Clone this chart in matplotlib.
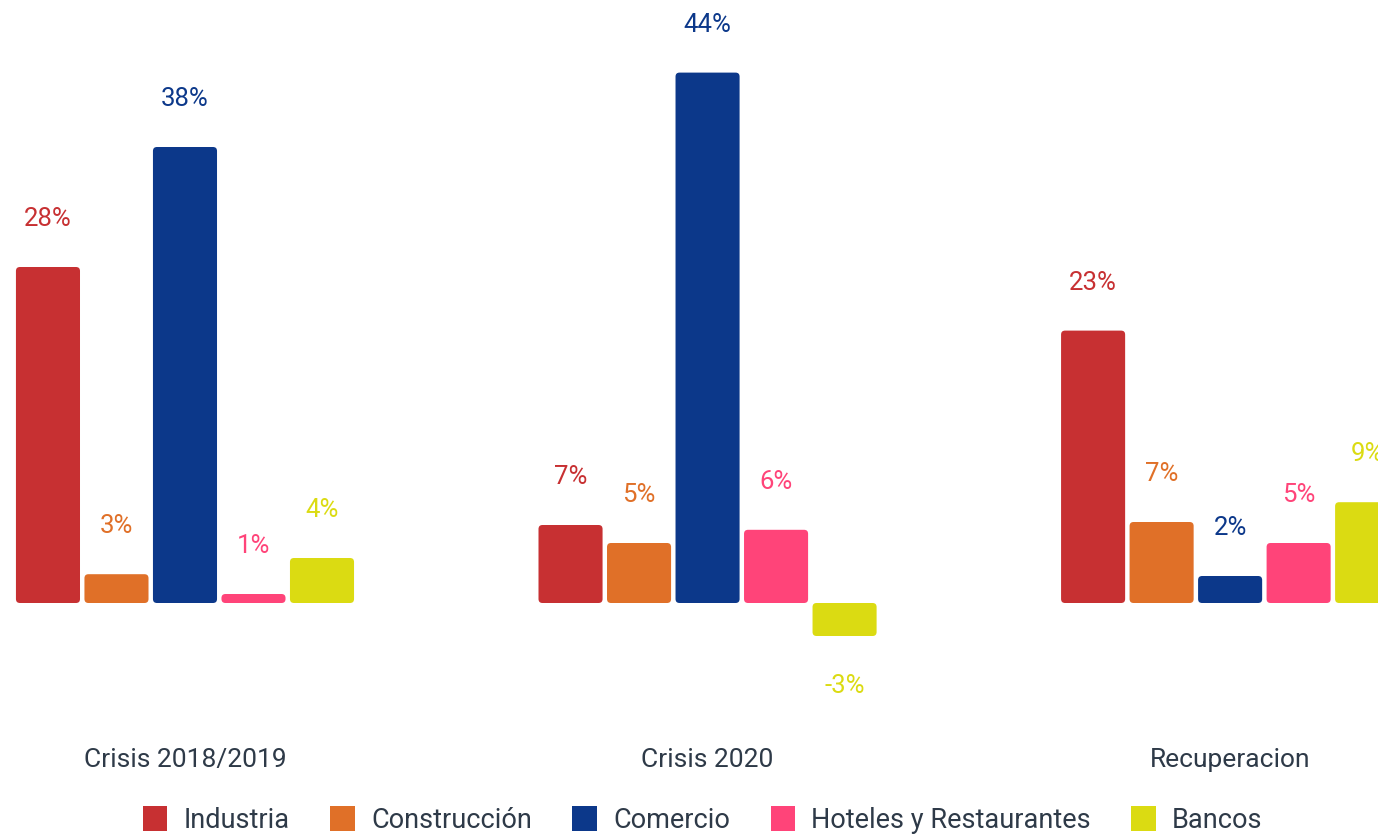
import matplotlib.pyplot as plt
from matplotlib.patches import FancyBboxPatch, Patch
import numpy as np

plt.rcParams['font.family'] = ['Roboto', 'DejaVu Sans']

periodos = ['Crisis 2018/2019', 'Crisis 2020', 'Recuperacion']
sectores = ['Industria', 'Construcción', 'Comercio', 'Hoteles y Restaurantes', 'Bancos']
colores = ['#C73032', '#E07028', '#0C388A', '#FF4479', '#DBDB12']

# alturas (en %)
industria = [28.0, 6.5, 22.7]
construccion = [2.4, 5.0, 6.75]
comercio = [38.0, 44.2, 2.25]
hoteles = [0.75, 6.1, 5.0]
bancos = [3.75, -2.75, 8.4]

# etiquetas tal como aparecen
et_industria = ['28%', '7%', '23%']
et_construccion = ['3%', '5%', '7%']
et_comercio = ['38%', '44%', '2%']
et_hoteles = ['1%', '6%', '5%']
et_bancos = ['4%', '-3%', '9%']

series = [industria, construccion, comercio, hoteles, bancos]
etiquetas = [et_industria, et_construccion, et_comercio, et_hoteles, et_bancos]

texto = '#2E3A48'

fig = plt.figure(figsize=(13.78, 8.35), dpi=100)
ax = fig.add_axes([0, 115 / 835, 1, 720 / 835])
xlim = (-0.354, 2.283)
ylim = (-9.75, 50.25)
ax.set_xlim(*xlim)
ax.set_ylim(*ylim)

x = np.arange(len(periodos))
paso = 0.1311
ancho = 0.1226

# pixeles por unidad, para redondear las esquinas sin deformarlas
px_x = 1378 / (xlim[1] - xlim[0])
px_y = 720 / (ylim[1] - ylim[0])
aspecto = px_x / px_y
radio = 4 / px_x

for i, (vals, labs) in enumerate(zip(series, etiquetas)):
    pos = x + (i - 2) * paso
    barras = ax.bar(pos, vals, width=ancho, color=colores[i])
    for rect, v, lab in zip(barras.patches, vals, labs):
        rect.set_visible(False)
        y0 = min(rect.get_y(), rect.get_y() + rect.get_height())
        caja = FancyBboxPatch((rect.get_x(), y0), rect.get_width(), abs(rect.get_height()),
                              boxstyle='round,pad=0,rounding_size=%f' % radio,
                              mutation_aspect=aspecto, facecolor=colores[i],
                              edgecolor='none')
        ax.add_patch(caja)
        desp = 34.5 if v >= 0 else -36
        ax.annotate(lab, (rect.get_x() + rect.get_width() / 2, v), xytext=(0, desp),
                    textcoords='offset points', ha='center', va='center',
                    fontsize=18.5, color=colores[i])

ax.set_xticks(x)
ax.set_xticklabels(periodos, fontsize=19, color=texto)
ax.tick_params(axis='x', length=0, pad=20)
ax.set_yticks([])
for s in ax.spines.values():
    s.set_visible(False)

handles = [Patch(facecolor=c, edgecolor='none') for c in colores]
fig.legend(handles, sectores, loc='center', bbox_to_anchor=(0.51, 0.018), ncol=5,
           frameon=False, fontsize=19.5, labelcolor=texto, handlelength=0.9,
           handleheight=1.05, handletextpad=0.6, columnspacing=1.5)

fig.savefig('out.png', dpi=100)
